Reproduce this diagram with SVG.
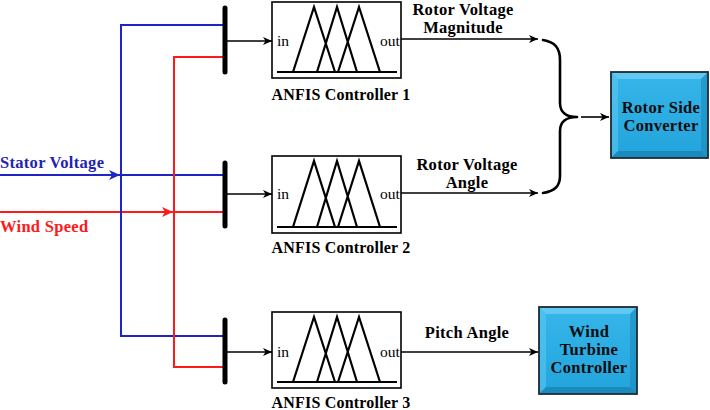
<svg xmlns="http://www.w3.org/2000/svg" width="710" height="410" viewBox="0 0 710 410">
<defs>
<style>
.lbl{font-family:"Liberation Serif","Times New Roman",serif;font-weight:bold;font-size:16.5px;letter-spacing:0.3px;fill:#000}
.anf{font-family:"Liberation Serif","Times New Roman",serif;font-weight:bold;font-size:16px;letter-spacing:0.2px;fill:#000}
.io{font-family:"Liberation Serif","Times New Roman",serif;font-size:15.5px;fill:#000}
.blue{stroke:#1f24c4;stroke-width:2;fill:none}
.red{stroke:#ff1a1a;stroke-width:2;fill:none}
.blk{stroke:#000;stroke-width:1.6;fill:none}
.bar{stroke:#000;stroke-width:5;stroke-linecap:round}
.box{fill:#fff;stroke:#000;stroke-width:1.6}
.mf{fill:none;stroke:#000;stroke-width:2.2;stroke-linejoin:miter}
.brace{fill:none;stroke:#000;stroke-width:2.6;stroke-linecap:round}
</style>
<marker id="ak" markerUnits="userSpaceOnUse" markerWidth="10" markerHeight="8" refX="9" refY="4" orient="auto"><path d="M0,0 L9,4 L0,8 L2.5,4 z" fill="#000"/></marker>
<marker id="ab" markerUnits="userSpaceOnUse" markerWidth="12" markerHeight="10" refX="11" refY="5" orient="auto"><path d="M0,0 L11,5 L0,10 L3,5 z" fill="#1f24c4"/></marker>
<marker id="ar" markerUnits="userSpaceOnUse" markerWidth="12" markerHeight="10" refX="11" refY="5" orient="auto"><path d="M0,0 L11,5 L0,10 L3,5 z" fill="#ff1a1a"/></marker>
<linearGradient id="face" x1="0" y1="0" x2="0" y2="1"><stop offset="0" stop-color="#36b6ea"/><stop offset="1" stop-color="#22a4dc"/></linearGradient>
</defs>

<g id="connectors">
<line x1="0" y1="175" x2="120" y2="175" class="blue" marker-end="url(#ab)"/>
<line x1="0" y1="212" x2="173" y2="212" class="red" marker-end="url(#ar)"/>
<path d="M225,25 H121 V336 H225 M121,175 H225" class="blue"/>
<path d="M225,57 H174 V367 H225 M174,212 H225" class="red"/>
<line x1="227" y1="41" x2="272" y2="41" class="blk" marker-end="url(#ak)"/>
<line x1="227" y1="194" x2="272" y2="194" class="blk" marker-end="url(#ak)"/>
<line x1="227" y1="352" x2="272" y2="352" class="blk" marker-end="url(#ak)"/>
<line x1="401" y1="39" x2="538" y2="39" class="blk" marker-end="url(#ak)"/>
<line x1="401" y1="193" x2="538" y2="193" class="blk" marker-end="url(#ak)"/>
<line x1="401" y1="352" x2="538" y2="352" class="blk" marker-end="url(#ak)"/>
<path class="brace" d="M543,40 C555,42 560,48 560,60 L560,103 C560,112 566,117 577,117 M577,117 C566,117 560,122 560,131 L560,176 C560,186 555,191 543,193"/>
<line x1="581" y1="117" x2="609" y2="117" class="blk" marker-end="url(#ak)"/>
</g>

<g id="labels">
<text x="0" y="168" class="lbl" style="fill:#1f24b4">Stator Voltage</text>
<text x="0" y="232" class="lbl" style="fill:#ff1a1a">Wind Speed</text>
<text x="463" y="15" class="lbl" text-anchor="middle">Rotor Voltage</text>
<text x="463" y="33" class="lbl" text-anchor="middle">Magnitude</text>
<text x="467" y="170" class="lbl" text-anchor="middle">Rotor Voltage</text>
<text x="467" y="188" class="lbl" text-anchor="middle">Angle</text>
<text x="467" y="338" class="lbl" text-anchor="middle">Pitch Angle</text>
</g>

<g id="bus1"><line x1="225" y1="8" x2="225" y2="72" class="bar"/></g>
<g id="bus2"><line x1="225" y1="163" x2="225" y2="226" class="bar"/></g>
<g id="bus3"><line x1="225" y1="320" x2="225" y2="382" class="bar"/></g>

<g id="anfis1" transform="translate(272,2)">
<rect x="0" y="0" width="129" height="76" class="box"/>
<path class="mf" d="M5,70 H125 M21,70 L42,5 L63,70 M45,70 L65,5 L85,70 M66,70 L87,5 L108,70"/>
<text x="5" y="44" class="io">in</text>
<text x="108" y="44" class="io">out</text>
<text x="69" y="98" class="anf" text-anchor="middle">ANFIS Controller 1</text>
</g>

<g id="anfis2" transform="translate(272,156)">
<rect x="0" y="0" width="129" height="77" class="box"/>
<path class="mf" d="M5,71 H125 M21,71 L42,5 L63,71 M45,71 L65,5 L85,71 M66,71 L87,5 L108,71"/>
<text x="5" y="43" class="io">in</text>
<text x="108" y="43" class="io">out</text>
<text x="69" y="97" class="anf" text-anchor="middle">ANFIS Controller 2</text>
</g>

<g id="anfis3" transform="translate(272,312)">
<rect x="0" y="0" width="129" height="76" class="box"/>
<path class="mf" d="M5,70 H125 M21,70 L42,5 L63,70 M45,70 L65,5 L85,70 M66,70 L87,5 L108,70"/>
<text x="5" y="45" class="io">in</text>
<text x="108" y="45" class="io">out</text>
<text x="69" y="96" class="anf" text-anchor="middle">ANFIS Controller 3</text>
</g>

<g id="rsc" transform="translate(611,72)">
<rect x="0" y="0" width="97" height="86" fill="url(#face)" stroke="#1d2b33" stroke-width="1.8"/>
<polygon points="1,1 96,1 90,7 7,7" fill="#7fd6f6" opacity="0.6"/>
<polygon points="1,1 7,7 7,79 1,85" fill="#5cc7f0" opacity="0.6"/>
<polygon points="96,1 96,85 90,79 90,7" fill="#1a88bd" opacity="0.6"/>
<polygon points="1,85 96,85 90,79 7,79" fill="#1678a8" opacity="0.6"/>
<text x="50" y="41" class="lbl" text-anchor="middle" style="fill:#0d0d0d">Rotor Side</text>
<text x="50" y="59" class="lbl" text-anchor="middle" style="fill:#0d0d0d">Converter</text>
</g>

<g id="wtc" transform="translate(539,307)">
<rect x="0" y="0" width="98" height="87" fill="url(#face)" stroke="#1d2b33" stroke-width="1.8"/>
<polygon points="1,1 97,1 91,7 7,7" fill="#7fd6f6" opacity="0.6"/>
<polygon points="1,1 7,7 7,80 1,86" fill="#5cc7f0" opacity="0.6"/>
<polygon points="97,1 97,86 91,80 91,7" fill="#1a88bd" opacity="0.6"/>
<polygon points="1,86 97,86 91,80 7,80" fill="#1678a8" opacity="0.6"/>
<text x="50" y="30" class="lbl" text-anchor="middle" style="fill:#0d0d0d">Wind</text>
<text x="50" y="48" class="lbl" text-anchor="middle" style="fill:#0d0d0d">Turbine</text>
<text x="50" y="66" class="lbl" text-anchor="middle" style="fill:#0d0d0d">Controller</text>
</g>
</svg>
